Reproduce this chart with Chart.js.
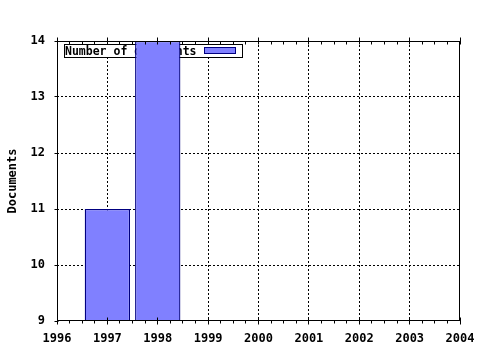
<!DOCTYPE html>
<html><head><meta charset="utf-8">
<script src="https://cdn.jsdelivr.net/npm/chart.js@4"></script>
<style>html,body{margin:0;padding:0;background:#fff}</style>
</head><body>
<canvas id="c" width="480" height="350"></canvas>
<script>
const years = [1997, 1998];
const documents = [11, 14];
const xTickValues = [1996, 1997, 1998, 1999, 2000, 2001, 2002, 2003, 2004];
const yTickValues = [9, 10, 11, 12, 13, 14];
const seriesLabel = 'Number of documents';
const yAxisTitle = 'Documents';

const FONT = '"DejaVu Sans Mono", "Liberation Mono", monospace';

const legendBox = {
  id: 'legendBox',
  beforeDatasetsDraw(chart) {
    const {ctx, chartArea: a} = chart;
    const ds = chart.data.datasets[0];
    ctx.save();
    const x = a.left + 7, y = a.top + 3, w = 178, h = 13;
    ctx.fillStyle = '#fff';
    ctx.fillRect(x, y, w, h);
    ctx.strokeStyle = '#000';
    ctx.lineWidth = 1;
    ctx.strokeRect(x + 0.5, y + 0.5, w, h);
    ctx.font = 'bold 11.5px ' + FONT;
    ctx.fillStyle = '#000';
    ctx.textBaseline = 'alphabetic';
    ctx.textAlign = 'left';
    ctx.fillText(ds.label, x + 1, y + 11);
    ctx.fillStyle = ds.backgroundColor;
    ctx.fillRect(x + 140.5, y + 3.5, 31, 6);
    ctx.strokeStyle = ds.borderColor;
    ctx.strokeRect(x + 140.5, y + 3.5, 31, 6);
    ctx.restore();
  }
};

const frameTicks = {
  id: 'frameTicks',
  afterDatasetsDraw(chart) {
    const {ctx, chartArea: a, scales} = chart;
    const L = Math.floor(a.left) + 0.5, R = Math.ceil(a.right) - 0.5;
    const T = Math.floor(a.top) + 0.5, B = Math.ceil(a.bottom) - 0.5;
    ctx.save();
    ctx.setLineDash([]);
    ctx.strokeStyle = '#000';
    ctx.lineWidth = 1;
    ctx.beginPath();
    xTickValues.forEach(v => {
      const px = Math.round(scales.x.getPixelForValue(v) - 0.5) + 0.5;
      ctx.moveTo(px, B - 3); ctx.lineTo(px, B + 4);
      ctx.moveTo(px, T - 4); ctx.lineTo(px, T + 3);
    });
    for (let i = 0; i < xTickValues.length - 1; i++) {
      for (let k = 1; k < 4; k++) {
        const v = xTickValues[i] + k * (xTickValues[i + 1] - xTickValues[i]) / 4;
        const px = Math.round(scales.x.getPixelForValue(v) - 0.5) + 0.5;
        ctx.moveTo(px, B); ctx.lineTo(px, B + 3);
        ctx.moveTo(px, T); ctx.lineTo(px, T + 3);
      }
    }
    yTickValues.forEach(v => {
      const py = Math.round(scales.y.getPixelForValue(v) - 0.5) + 0.5;
      ctx.moveTo(L - 3, py); ctx.lineTo(L + 1, py);
    });
    ctx.stroke();
    ctx.strokeRect(L, T, R - L, B - T);
    ctx.restore();
  }
};

const gridColor = (ctx) => {
  const n = ctx.scale.ticks.length;
  return (ctx.index === 0 || ctx.index === n - 1) ? 'rgba(0,0,0,0)' : '#000';
};

new Chart(document.getElementById('c'), {
  type: 'bar',
  data: {
    datasets: [{
      label: seriesLabel,
      data: years.map((y, i) => ({x: y, y: documents[i]})),
      backgroundColor: '#8080ff',
      borderColor: '#000080',
      borderWidth: 1.3,
      inflateAmount: 0,
      barPercentage: 0.9,
      categoryPercentage: 1.0
    }]
  },
  options: {
    responsive: false,
    animation: false,
    devicePixelRatio: 1,
    layout: {padding: {top: 41, right: 20, left: 0, bottom: 0}},
    plugins: {legend: {display: false}, tooltip: {enabled: false}},
    scales: {
      x: {
        type: 'linear',
        offset: false,
        min: xTickValues[0],
        max: xTickValues[xTickValues.length - 1],
        afterBuildTicks: s => { s.ticks = xTickValues.map(v => ({value: v})); },
        afterFit: s => { s.height = 29; s.paddingLeft = 0; s.paddingRight = 0; },
        ticks: {
          callback: v => String(v),
          color: '#000',
          font: {family: FONT, size: 12, weight: 'bold'},
          padding: 11,
          maxRotation: 0,
          autoSkip: false
        },
        grid: {color: gridColor, drawTicks: false, lineWidth: 1, offset: false},
        border: {display: false, dash: [2, 2]}
      },
      y: {
        min: yTickValues[0],
        max: yTickValues[yTickValues.length - 1],
        afterBuildTicks: s => { s.ticks = yTickValues.map(v => ({value: v})); },
        afterFit: s => { s.width = 57; s.paddingTop = 0; s.paddingBottom = 0; },
        ticks: {
          callback: v => String(v),
          color: '#000',
          font: {family: FONT, size: 12, weight: 'bold'},
          padding: 12
        },
        grid: {color: gridColor, drawTicks: false, lineWidth: 1},
        border: {display: false, dash: [2, 2]},
        title: {
          display: true,
          text: yAxisTitle,
          color: '#000',
          font: {family: FONT, size: 12, weight: 'bold'},
          padding: {top: 6, bottom: 0}
        }
      }
    }
  },
  plugins: [legendBox, frameTicks]
});
</script>
</body></html>
